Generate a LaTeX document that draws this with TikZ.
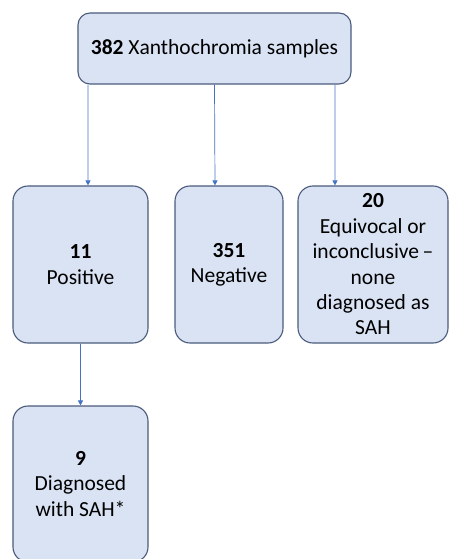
\documentclass[tikz,border=0pt]{standalone}
\usepackage{fontspec}
\setmainfont{Carlito}
\usepackage{tikz}
\usetikzlibrary{arrows.meta}
\definecolor{boxfill}{HTML}{DAE3F3}
\definecolor{boxline}{HTML}{4A5B7C}
\definecolor{arrline}{HTML}{4472C4}

\begin{document}
\begin{tikzpicture}[x=1bp,y=-1bp,
  box/.style={draw=boxline,fill=boxfill,line width=1.1bp,rounded corners=15bp,
    align=center,inner sep=0pt,font=\fontsize{21.5bp}{25.4bp}\selectfont},
  arr/.style={draw=arrline,line width=0.7bp,-{Triangle[length=5bp,width=5bp]}}]
\clip (0,0) rectangle (449,559);

\node[box,rounded corners=12bp,minimum width=273bp,minimum height=71bp] (top) at (214.5,48.5) {\textbf{382} Xanthochromia samples};

\node[box,minimum width=135bp,minimum height=157bp] (pos) at (80.5,264.5) {\textbf{11}\\Positive};
\node[box,minimum width=108bp,minimum height=157bp] (neg) at (229,264.5) {\textbf{351}\\Negative};
\node[box,minimum width=150bp,minimum height=157bp] (equiv) at (373,264.5) {\textbf{20}\\Equivocal or\\inconclusive\,--\\none\\diagnosed as\\SAH};

\node[box,minimum width=135bp,minimum height=156bp] (sah) at (80.5,484) {\textbf{9}\\Diagnosed\\with SAH*};

\draw[arr] ([xshift=-126.5bp]top.south) -- ([xshift=7.5bp]pos.north);
\draw[arr] (top.south) -- ([xshift=-14bp]neg.north);
\draw[arr] ([xshift=120.5bp]top.south) -- ([xshift=-38bp]equiv.north);
\draw[arr] (pos.south) -- (sah.north);
\end{tikzpicture}
\end{document}
